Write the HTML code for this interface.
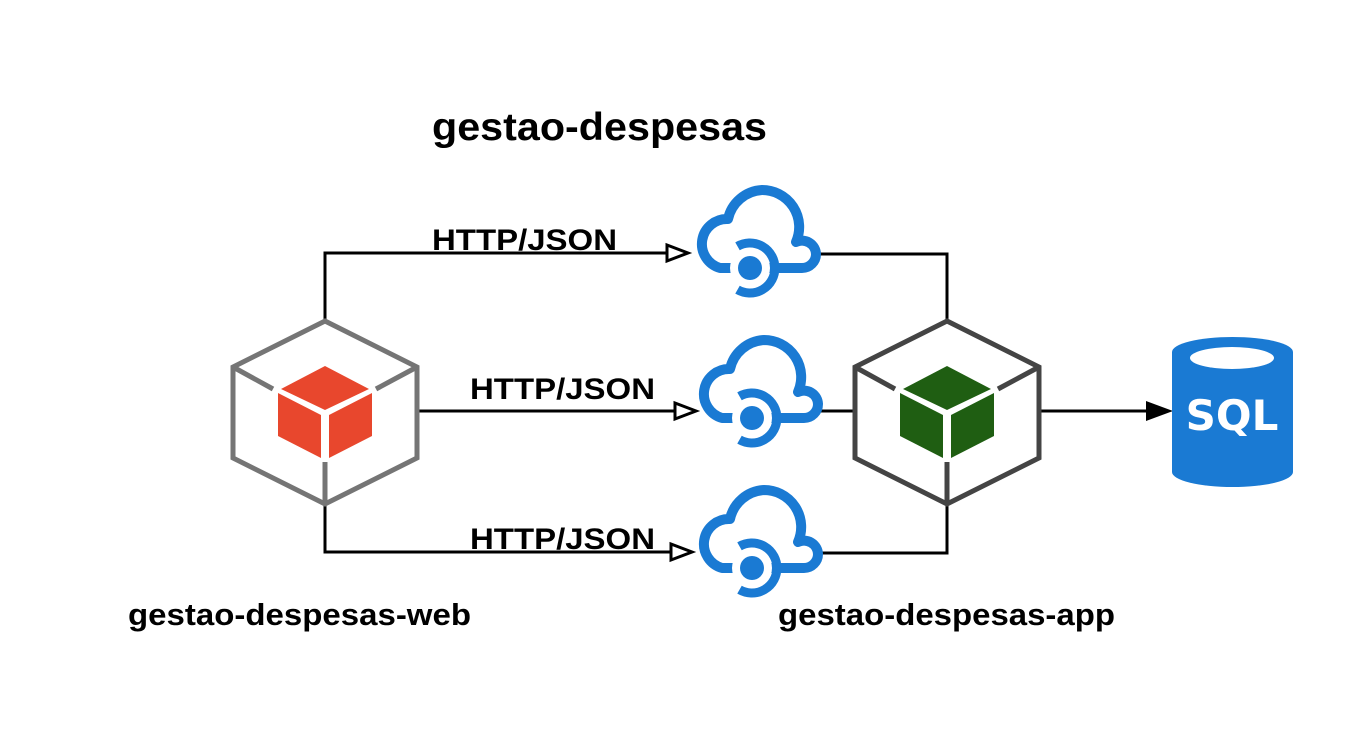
<!DOCTYPE html>
<html><head><meta charset="utf-8"><style>
html,body{margin:0;padding:0;background:#fff;}
svg{display:block;}
text{font-family:"Liberation Sans",Arial,sans-serif;font-weight:bold;}
</style></head><body>
<svg width="1369" height="750" viewBox="0 0 1369 750" xmlns="http://www.w3.org/2000/svg">
<defs>
  <g id="hexframe">
    <polygon points="0,-91 92,-45 92,46 0,92 -92,46 -92,-45" fill="#fff" stroke-width="5" stroke-linejoin="miter"/>
    <line x1="-92" y1="-45" x2="-52" y2="-23" stroke-width="5"/>
    <line x1="92" y1="-45" x2="51" y2="-23" stroke-width="5"/>
    <line x1="0" y1="92" x2="0" y2="50" stroke-width="5"/>
  </g>
  <g id="cube">
    <polygon points="0,-46 44,-23 0,-2 -44,-23"/>
    <polygon points="-47,-19 -4,3 -4,46 -47,24"/>
    <polygon points="47,-19 4,3 4,46 47,24"/>
  </g>
  <g id="cloud">
    <path d="M 30,81 A 25 25 0 0 1 38,32 A 37 37 0 0 1 72,3 A 37 37 0 0 1 106,55 A 14 14 0 0 1 126,67 A 14 14 0 0 1 112,81 Z" fill="#fff" stroke="#1a7ad3" stroke-width="10" stroke-linejoin="round"/>
    <circle cx="60" cy="81" r="20" fill="#fff"/>
    <path d="M 47.5,59.3 A 25 25 0 1 1 47.5,102.7" fill="none" stroke="#1a7ad3" stroke-width="9"/>
    <circle cx="60" cy="81" r="12" fill="#1a7ad3"/>
  </g>
</defs>

<g fill="none" stroke="#000" stroke-width="3">
  <polyline points="325,320 325,253 668,253"/>
  <polyline points="418,411 676,411"/>
  <polyline points="325,505 325,552 672,552"/>
  <polyline points="818,254 947,254 947,321"/>
  <polyline points="821,411 855,411"/>
  <polyline points="821,553 947,553 947,503"/>
  <line x1="1039" y1="411" x2="1148" y2="411"/>
</g>
<g fill="#fff" stroke="#000" stroke-width="3">
  <polygon points="667,245 688,253 667,261"/>
  <polygon points="675,403 696,411 675,419"/>
  <polygon points="671,544 692,552 671,560"/>
</g>
<polygon points="1146,401 1173,411 1146,421" fill="#000"/>

<g transform="translate(325,412)" stroke="#757575"><use href="#hexframe"/></g>
<g transform="translate(325,412)" fill="#e8472d"><use href="#cube"/></g>
<g transform="translate(947,412)" stroke="#444"><use href="#hexframe"/></g>
<g transform="translate(947,412)" fill="#1f5e12"><use href="#cube"/></g>

<use href="#cloud" transform="translate(690,187)"/>
<use href="#cloud" transform="translate(692,337)"/>
<use href="#cloud" transform="translate(692,487)"/>

<path d="M1172,352 A60.5 15 0 0 1 1293,352 L1293,472 A60.5 15 0 0 1 1172,472 Z" fill="#1a7ad3"/>
<ellipse cx="1232" cy="358" rx="42" ry="11" fill="#fff"/>
<text x="1232" y="430" font-size="42" fill="#fff" text-anchor="middle" style="font-family:'DejaVu Sans','Liberation Sans',sans-serif">SQL</text>

<text x="432" y="140" font-size="39" fill="#000" textLength="335" lengthAdjust="spacingAndGlyphs">gestao-despesas</text>
<text x="432" y="250" font-size="30" fill="#000" textLength="185" lengthAdjust="spacingAndGlyphs">HTTP/JSON</text>
<text x="470" y="399" font-size="30" fill="#000" textLength="185" lengthAdjust="spacingAndGlyphs">HTTP/JSON</text>
<text x="470" y="549" font-size="30" fill="#000" textLength="185" lengthAdjust="spacingAndGlyphs">HTTP/JSON</text>
<text x="128" y="625" font-size="31" fill="#000" textLength="343" lengthAdjust="spacingAndGlyphs">gestao-despesas-web</text>
<text x="778" y="625" font-size="31" fill="#000" textLength="337" lengthAdjust="spacingAndGlyphs">gestao-despesas-app</text>
</svg>
</body></html>
